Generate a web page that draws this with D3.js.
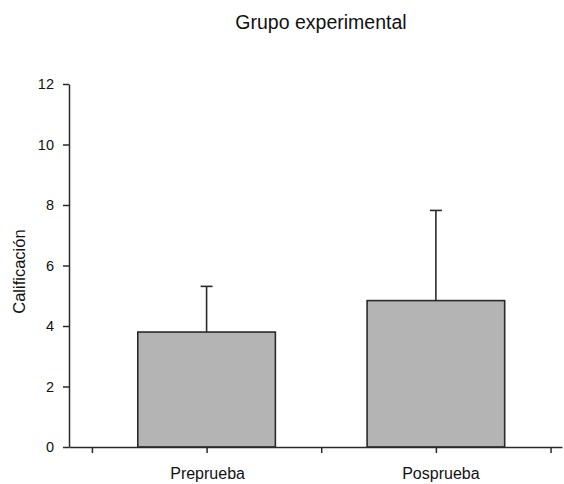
<!DOCTYPE html>
<html>
<head>
<meta charset="utf-8">
<script src="https://cdn.jsdelivr.net/npm/d3@7"></script>
<style>
  body { margin: 0; background: #fff; }
  text { font-family: "Liberation Sans", Arial, sans-serif; fill: #111; }
</style>
</head>
<body>
<div class="svg-container"></div>
<script>
// data
const groups = ['Preprueba', 'Posprueba'];
const means = [3.8, 4.84];
const errors = [1.51, 2.98];   // upper error bar length
const yTicks = [0, 2, 4, 6, 8, 10, 12];
const xTickPos = [0, 1, 2, 3, 4];
const groupPos = [1, 3];

const W = 564, H = 484;
const margin = {top: 84, right: 2, bottom: 37, left: 69};
const width = W - margin.left - margin.right;
const height = H - margin.top - margin.bottom;

const svg = d3.select('.svg-container')
    .append('svg')
    .attr('width', W)
    .attr('height', H);

const g = svg.append('g')
    .attr('transform', `translate(${margin.left}, ${margin.top})`);

// x is a continuous position scale: groups sit at 1 and 3, ticks at 0..4
const x = d3.scaleLinear()
    .domain([-0.2, 4.1])
    .range([0, width]);

const y = d3.scaleLinear()
    .domain([0, 12])
    .range([height, 0]);

const barW = x(1.2) - x(0);

// bars
g.selectAll('.bar')
  .data(groups)
  .enter().append('rect')
    .attr('class', 'bar')
    .attr('x', (d, i) => x(groupPos[i]) - barW / 2)
    .attr('y', (d, i) => y(means[i]))
    .attr('width', barW)
    .attr('height', (d, i) => y(0) - y(means[i]))
    .attr('fill', '#b4b4b4')
    .attr('stroke', '#2a2a2a')
    .attr('stroke-width', 1.6);

// error bars (upper only)
const err = g.selectAll('.err')
  .data(groups)
  .enter().append('g')
    .attr('class', 'err')
    .attr('stroke', '#2a2a2a')
    .attr('stroke-width', 1.6);

err.append('line')
    .attr('x1', (d, i) => x(groupPos[i]))
    .attr('x2', (d, i) => x(groupPos[i]))
    .attr('y1', (d, i) => y(means[i]))
    .attr('y2', (d, i) => y(means[i] + errors[i]));

err.append('line')
    .attr('x1', (d, i) => x(groupPos[i]) - 6)
    .attr('x2', (d, i) => x(groupPos[i]) + 6)
    .attr('y1', (d, i) => y(means[i] + errors[i]))
    .attr('y2', (d, i) => y(means[i] + errors[i]));

// y axis
const yAxis = g.append('g')
    .call(d3.axisLeft(y).tickValues(yTicks).tickSize(6).tickSizeOuter(0).tickPadding(9));

// x axis
const xAxis = g.append('g')
    .attr('transform', `translate(0,${height})`)
    .call(d3.axisBottom(x).tickValues(xTickPos).tickSize(6).tickSizeOuter(0).tickFormat(''));

g.selectAll('.domain, .tick line').attr('stroke', '#2a2a2a').attr('stroke-width', 1.5);
yAxis.selectAll('text').attr('font-size', 14.5).attr('fill', '#111');

g.selectAll('.glabel')
  .data(groups)
  .enter().append('text')
    .attr('class', 'glabel')
    .attr('x', (d, i) => x(groupPos[i]) + (i ? 5 : 1))
    .attr('y', height + 32)
    .attr('text-anchor', 'middle')
    .attr('font-size', 16)
    .text(d => d);

// y label
svg.append('text')
    .attr('transform', `translate(25, ${margin.top + y(5.8)}) rotate(-90)`)
    .attr('text-anchor', 'middle')
    .attr('font-size', 16.5)
    .text('Calificación');

// title
svg.append('text')
    .attr('x', 321)
    .attr('y', 29)
    .attr('text-anchor', 'middle')
    .attr('font-size', 19.5)
    .text('Grupo experimental');
</script>
</body>
</html>
